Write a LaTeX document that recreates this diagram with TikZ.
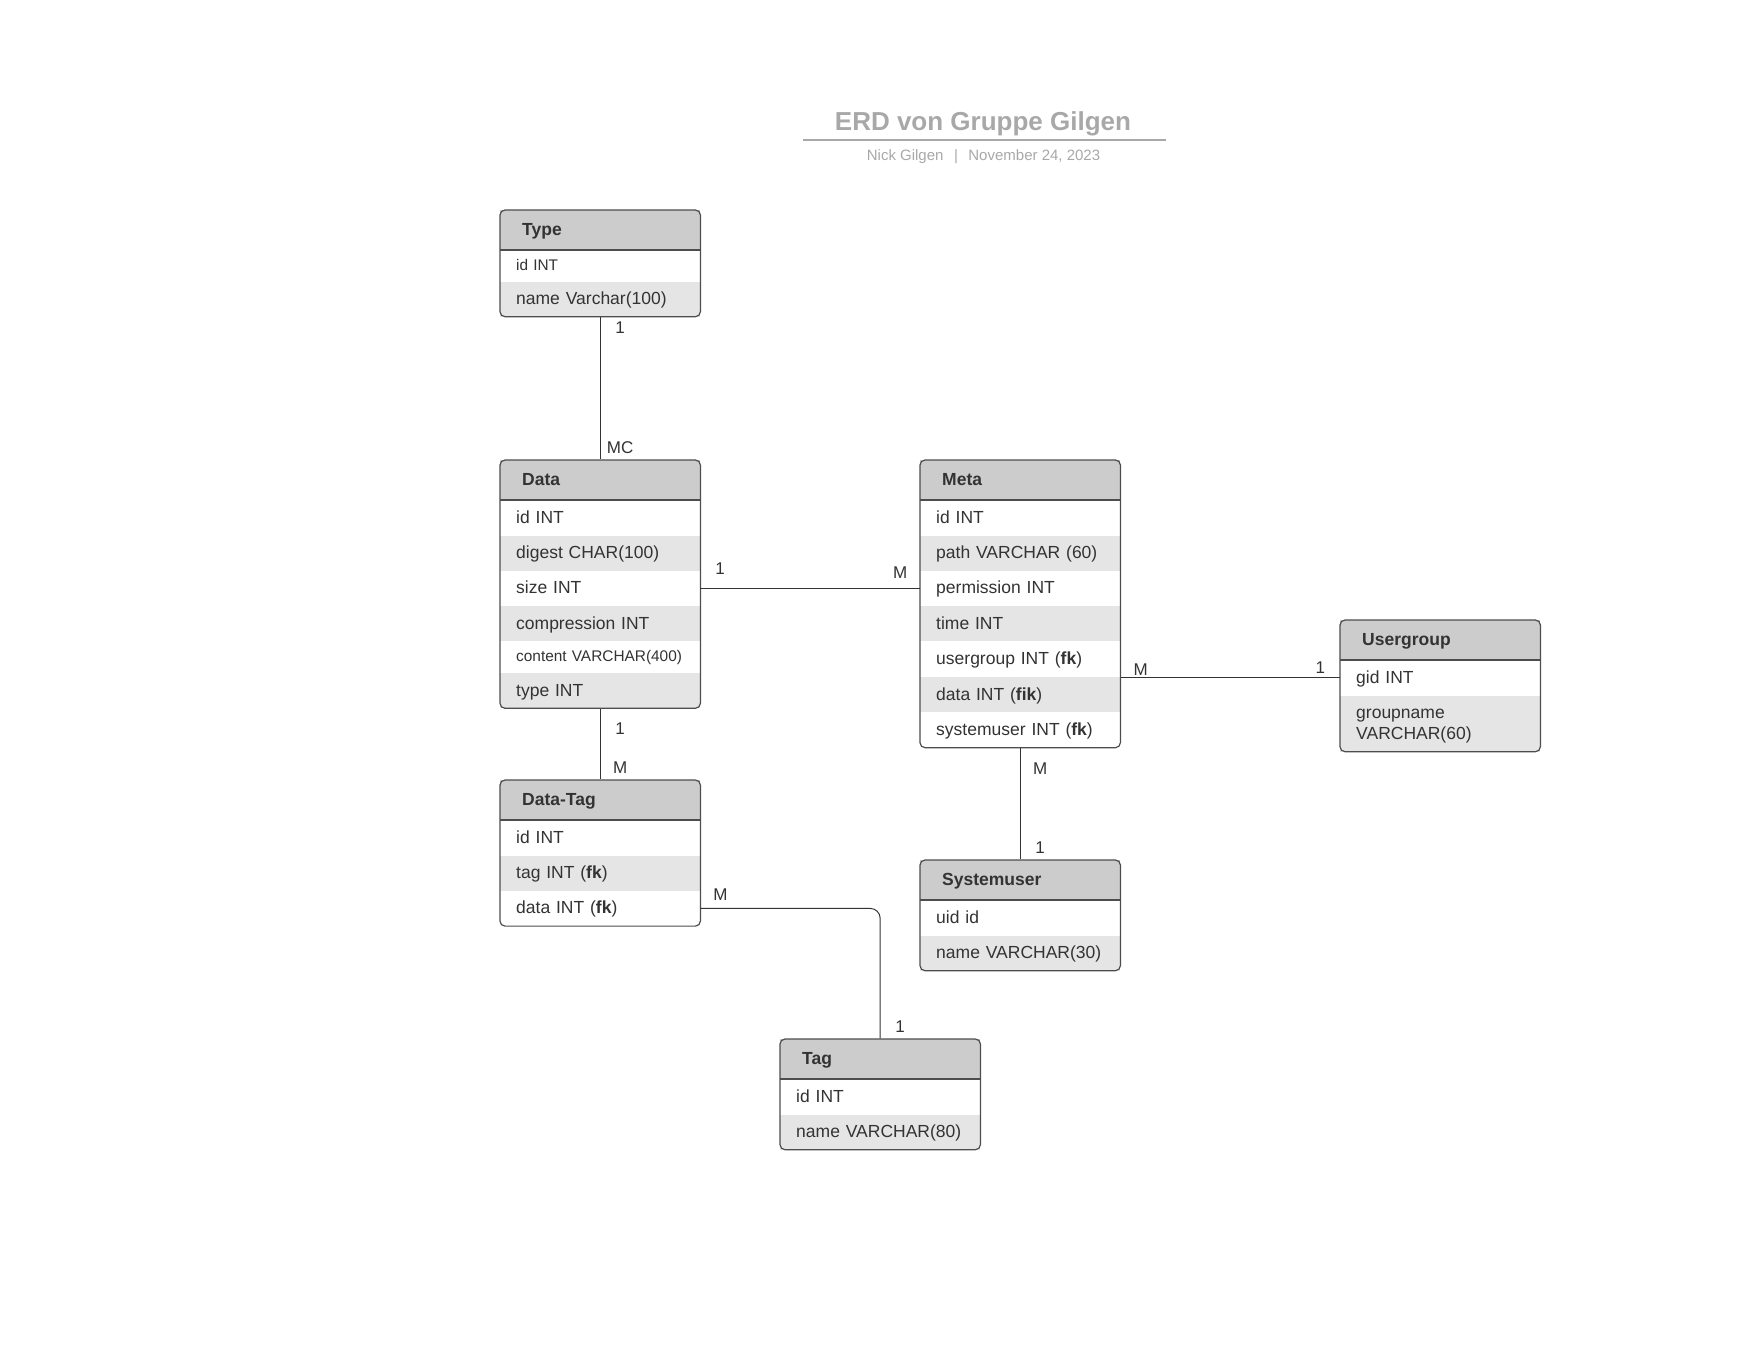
\documentclass[tikz,border=0pt]{standalone}
\usepackage{fontspec}
\setmainfont{Liberation Sans}
\usetikzlibrary{positioning, fit}

\definecolor{hdrgray}{HTML}{CCCCCC}
\definecolor{rowgray}{HTML}{E5E5E5}
\definecolor{ink}{HTML}{333333}
\definecolor{edge}{HTML}{4D4D4D}
\definecolor{titlegray}{HTML}{A8A8A8}

\begin{document}
\begin{tikzpicture}[
        x=1pt, y=-1pt,
        hdr/.style={fill=hdrgray, text=ink, anchor=north west, minimum width=200pt, minimum height=39.5pt, text width=156pt, inner xsep=22pt, inner ysep=0pt, text height=12.5pt, text depth=2pt, font=\fontsize{17.5}{21}\selectfont\bfseries},
        row/.style={fill=white, text=ink, minimum width=200pt, minimum height=35pt, text width=168pt, inner xsep=16pt, inner ysep=0pt, text height=12.5pt, text depth=1.5pt, align=left, font=\fontsize{17.5}{21}\selectfont},
        rowg/.style={row, fill=rowgray},
        small/.style={minimum height=31pt, text height=11pt, font=\fontsize{15.4}{18}\selectfont},
        ent/.style={draw=edge, line width=1.2pt, rounded corners=5pt, inner sep=0pt},
        sep/.style={draw=edge, line width=1.2pt},
        rel/.style={draw=ink, line width=1pt},
        card/.style={text=ink, inner sep=0pt, font=\fontsize{17}{20}\selectfont}
    ]
        \useasboundingbox (0,0) rectangle (1760,1360);

        % Tiêu đề
        \node[anchor=base, text=titlegray, font=\fontsize{26}{31}\selectfont\bfseries] (title) at (983,130) {ERD von Gruppe Gilgen};
        \draw[titlegray, line width=1.5pt] (803,140) -- (1166,140);
        \node[anchor=base, text=titlegray, font=\fontsize{15}{18}\selectfont] (sub) at (983.5,160.7) {Nick Gilgen\hspace{10.5pt}|\hspace{10.5pt}November 24, 2023};

        % Type
        \node[hdr] (typH) at (500,210) {Type};
        \node[row, small, below=0pt of typH] (typ1) {id INT};
        \node[rowg, below=0pt of typ1] (typ2) {name Varchar(100)};
        \node[ent, fit=(typH)(typ2)] (typ) {};
        \draw[sep] (typH.south west) -- (typH.south east);

        % Data
        \node[hdr] (datH) at (500,460) {Data};
        \node[row, below=0pt of datH] (dat1) {id INT};
        \node[rowg, below=0pt of dat1] (dat2) {digest CHAR(100)};
        \node[row, below=0pt of dat2] (dat3) {size INT};
        \node[rowg, below=0pt of dat3] (dat4) {compression INT};
        \node[row, small, below=0pt of dat4] (dat5) {content VARCHAR(400)};
        \node[rowg, below=0pt of dat5] (dat6) {type INT};
        \node[ent, fit=(datH)(dat6)] (dat) {};
        \draw[sep] (datH.south west) -- (datH.south east);

        % Meta
        \node[hdr] (metaH) at (920,460) {Meta};
        \node[row, below=0pt of metaH] (meta1) {id INT};
        \node[rowg, below=0pt of meta1] (meta2) {path VARCHAR (60)};
        \node[row, below=0pt of meta2] (meta3) {permission INT};
        \node[rowg, below=0pt of meta3] (meta4) {time INT};
        \node[row, below=0pt of meta4] (meta5) {usergroup INT (\textbf{fk})};
        \node[rowg, below=0pt of meta5] (meta6) {data INT (\textbf{fik})};
        \node[row, below=0pt of meta6] (meta7) {systemuser INT (\textbf{fk})};
        \node[ent, fit=(metaH)(meta7)] (meta) {};
        \draw[sep] (metaH.south west) -- (metaH.south east);

        % Usergroup
        \node[hdr] (ugrpH) at (1340,620) {Usergroup};
        \node[row, below=0pt of ugrpH] (ugrp1) {gid INT};
        \node[rowg, minimum height=56pt, text depth=22.5pt, below=0pt of ugrp1] (ugrp2) {groupname\\VARCHAR(60)};
        \node[ent, fit=(ugrpH)(ugrp2)] (ugrp) {};
        \draw[sep] (ugrpH.south west) -- (ugrpH.south east);

        % Data-Tag
        \node[hdr] (dtagH) at (500,780) {Data-Tag};
        \node[row, below=0pt of dtagH] (dtag1) {id INT};
        \node[rowg, below=0pt of dtag1] (dtag2) {tag INT (\textbf{fk})};
        \node[row, below=0pt of dtag2] (dtag3) {data INT (\textbf{fk})};
        \node[ent, fit=(dtagH)(dtag3)] (dtag) {};
        \draw[sep] (dtagH.south west) -- (dtagH.south east);

        % Systemuser
        \node[hdr] (suserH) at (920,860) {Systemuser};
        \node[row, below=0pt of suserH] (suser1) {uid id};
        \node[rowg, below=0pt of suser1] (suser2) {name VARCHAR(30)};
        \node[ent, fit=(suserH)(suser2)] (suser) {};
        \draw[sep] (suserH.south west) -- (suserH.south east);

        % Tag
        \node[hdr] (tagH) at (780,1039) {Tag};
        \node[row, below=0pt of tagH] (tag1) {id INT};
        \node[rowg, below=0pt of tag1] (tag2) {name VARCHAR(80)};
        \node[ent, fit=(tagH)(tag2)] (tag) {};
        \draw[sep] (tagH.south west) -- (tagH.south east);

        % Các quan hệ
        \draw[rel] (typ) -- node[card, pos=0.076, xshift=20pt] {1} node[card, pos=0.917, xshift=20pt] {MC} (dat);
        \draw[rel] (dat) -- node[card, pos=0.28, xshift=20pt] {1} node[card, pos=0.83, xshift=20pt] {M} (dtag);
        \draw[rel] (dat3.east) -- node[card, pos=0.09, yshift=20pt] {1} node[card, pos=0.91, yshift=16pt] {M} (meta3.west);
        \draw[rel] (meta.east |- ugrp1.west) -- node[card, pos=0.09, yshift=8pt] {M} node[card, pos=0.91, yshift=10pt] {1} (ugrp1.west);
        \draw[rel] (meta) -- node[card, pos=0.18, xshift=20pt] {M} node[card, pos=0.89, xshift=20pt] {1} (suser);
        \draw[rel, rounded corners=10pt] (dtag3.east) -| node[card, pos=0.056, yshift=14pt] {M} node[card, pos=0.956, xshift=20pt] {1} (tag);
    \end{tikzpicture}
\end{document}
